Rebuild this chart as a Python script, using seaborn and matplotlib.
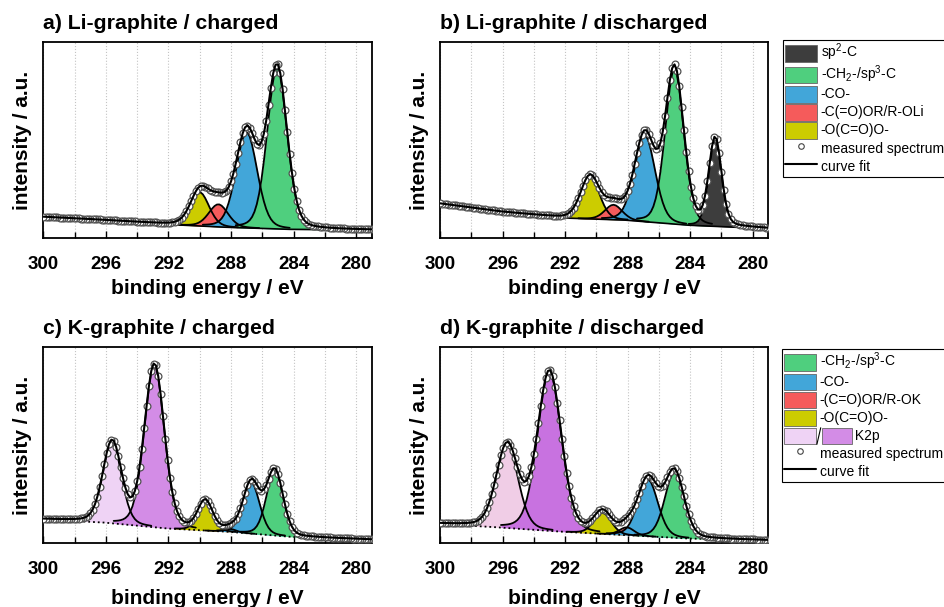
import numpy as np
import matplotlib
matplotlib.use("Agg")
import matplotlib.pyplot as plt
from matplotlib.patches import Patch, Rectangle
from matplotlib.lines import Line2D
from matplotlib.legend_handler import HandlerBase
from matplotlib.ticker import MultipleLocator
import seaborn as sns


# binding energy axis of the spectra (eV), 0.15 eV steps
energy = np.arange(279.0, 300.01, 0.15)

# background anchor energies and background level per panel
bg_energy = [279, 284, 288, 292, 296, 300]
bg_a = [4.2, 4.5, 5.5, 7.0, 9.2, 10.9]
bg_b = [4.9, 6.6, 9.2, 10.3, 13.4, 17.7]
bg_c = [1.9, 3.2, 5.8, 7.5, 10.5, 12.2]
bg_d = [1.5, 2.4, 4.1, 5.8, 8.0, 9.8]

# fitted components: species, centre (eV), height, FWHM (eV)
comp_a = ["oco", "coor", "co", "ch2"]
center_a = [290.0, 288.8, 287.0, 285.05]
height_a = [17.2, 11.5, 48.7, 82.0]
fwhm_a = [1.4, 1.45, 1.6, 1.5]

comp_b = ["oco", "coor", "co", "ch2", "sp2"]
center_b = [290.4, 288.9, 286.9, 285.0, 282.4]
height_b = [21.6, 7.6, 44.0, 79.0, 44.5]
fwhm_b = [1.4, 1.3, 1.55, 1.4, 0.95]

comp_c = ["k2p12", "k2p32", "oco", "coor", "co", "ch2"]
center_c = [295.6, 292.9, 289.65, 288.05, 286.7, 285.2]
height_c = [41.4, 82.8, 14.7, 1.5, 26.0, 33.0]
fwhm_c = [1.4, 1.5, 1.1, 0.9, 1.25, 1.25]

comp_d = ["k2p12", "k2p32", "oco", "coor", "co", "ch2"]
center_d = [295.7, 293.0, 289.6, 288.05, 286.7, 285.0]
height_d = [42.0, 81.0, 10.8, 4.0, 29.0, 33.4]
fwhm_d = [1.65, 1.8, 1.3, 1.1, 1.5, 1.45]

titles = ["a) Li-graphite / charged", "b) Li-graphite / discharged",
          "c) K-graphite / charged", "d) K-graphite / discharged"]

COLORS = {
    "sp2": "#3d3d3d",
    "ch2": "#4fcf7e",
    "co": "#42a6d9",
    "coor": "#f55b5b",
    "oco": "#cccc00",
    "k2p12": "#efd3f5",
    "k2p32": "#d38ce6",
}
K_COLORS_D = {"k2p12": "#f0cde6", "k2p32": "#c872e0"}


def pseudo_voigt(x, c, h, w, eta=0.2):
    r = (x - c) / (w / 2)
    return h * ((1 - eta) * np.exp(-np.log(2) * r ** 2) + eta / (1 + r ** 2))


sns.set_theme(style="white")
plt.rcParams["font.family"] = ["Liberation Sans", "DejaVu Sans"]
plt.rcParams["mathtext.fontset"] = "custom"
plt.rcParams["mathtext.rm"] = "Liberation Sans"
plt.rcParams["mathtext.it"] = "Liberation Sans:italic"
plt.rcParams["mathtext.bf"] = "Liberation Sans:bold"
for key in ["text.color", "axes.labelcolor", "xtick.color", "ytick.color"]:
    plt.rcParams[key] = "black"

fig = plt.figure(figsize=(9.44, 6.07), dpi=100)

positions = [
    [0.0459, 0.6074, 0.3479, 0.3239],
    [0.4661, 0.6074, 0.3478, 0.3239],
    [0.0459, 0.1049, 0.3479, 0.3239],
    [0.4661, 0.1049, 0.3478, 0.3239],
]
panels = [
    (bg_a, comp_a, center_a, height_a, fwhm_a, "-"),
    (bg_b, comp_b, center_b, height_b, fwhm_b, "-"),
    (bg_c, comp_c, center_c, height_c, fwhm_c, ":"),
    (bg_d, comp_d, center_d, height_d, fwhm_d, ":"),
]

for i, (pos, (bg_vals, comps, cents, heights, widths, bg_ls)) in enumerate(zip(positions, panels)):
    ax = fig.add_axes(pos)
    bg = np.interp(energy, bg_energy, bg_vals)
    fit = bg.copy()
    curves = []
    for name, c, h, w in zip(comps, cents, heights, widths):
        y = pseudo_voigt(energy, c, h, w)
        fit += y
        curves.append((name, c, w, y))

    # filled components, high binding energy first
    for name, c, w, y in curves:
        col = COLORS[name]
        if i == 3 and name in K_COLORS_D:
            col = K_COLORS_D[name]
        m = np.abs(energy - c) <= 1.8 * w
        ax.fill_between(energy[m], bg[m], bg[m] + y[m], color=col, lw=0, zorder=2)
    for name, c, w, y in curves:
        m = np.abs(energy - c) <= 1.8 * w
        ax.plot(energy[m], bg[m] + y[m], color="black", lw=1.3, zorder=3)

    ax.plot(energy, bg, color="black", lw=1.2 if bg_ls == "-" else 1.3,
            ls=bg_ls, zorder=3)

    sns.scatterplot(x=energy, y=fit, ax=ax, marker="o", s=24, color="white",
                    edgecolor="#505050", linewidth=0.9, zorder=4, legend=False)
    sns.lineplot(x=energy, y=fit, ax=ax, color="black", lw=1.5, zorder=5)

    ax.set_xlim(300, 279)
    ax.set_ylim(0, 100)
    ax.xaxis.set_major_locator(MultipleLocator(4))
    ax.xaxis.set_minor_locator(MultipleLocator(2))
    ax.set_yticks([])
    ax.grid(axis="x", which="both", color="#c4c4c4", ls=":", lw=0.8, zorder=0)
    ax.tick_params(axis="x", which="both", direction="in", bottom=True,
                   width=1.0, labelsize=13.5, pad=13)
    ax.tick_params(axis="x", which="major", length=5)
    ax.tick_params(axis="x", which="minor", length=4)
    for lab in ax.get_xticklabels():
        lab.set_fontweight("bold")
    for sp in ax.spines.values():
        sp.set_color("black")
        sp.set_linewidth(1.3)
    ax.set_xlabel("binding energy / eV", fontsize=15, fontweight="bold",
                  labelpad=4 if i < 2 else 7.5)
    ax.set_ylabel("intensity / a.u.", fontsize=15, fontweight="bold", labelpad=8)
    fig.text(pos[0], pos[1] + pos[3] + 0.0205, titles[i], fontsize=15.3,
             fontweight="bold", ha="left", va="baseline")


class HandlerBox(HandlerBase):
    def create_artists(self, legend, orig_handle, xdescent, ydescent,
                       width, height, fontsize, trans):
        h = height * 0.92
        y0 = -ydescent + (height - h) / 2 - 0.5
        p = Rectangle((-xdescent, y0), width, h,
                      facecolor=orig_handle.get_facecolor(),
                      edgecolor="#666666", lw=0.6, transform=trans)
        return [p]


class HandlerK2p(HandlerBase):
    def __init__(self, light, dark):
        super().__init__()
        self.light = light
        self.dark = dark

    def create_artists(self, legend, orig_handle, xdescent, ydescent,
                       width, height, fontsize, trans):
        h = height * 0.92
        x0, y0 = -xdescent, -ydescent + (height - h) / 2 - 0.5
        gap = 0.2 * width
        p1 = Rectangle((x0, y0), width, h, facecolor=self.light,
                       edgecolor="#666666", lw=0.6, transform=trans)
        slash = Line2D([x0 + width + gap * 0.2, x0 + width + gap * 0.8],
                       [y0, y0 + h], color="black", lw=0.8, transform=trans)
        p2 = Rectangle((x0 + width + gap, y0), width * 0.95, h,
                       facecolor=self.dark, edgecolor="#666666", lw=0.6,
                       transform=trans)
        return [p1, slash, p2]


def patch(key, label):
    return Patch(facecolor=COLORS[key], label=label)


meas = Line2D([], [], ls="none", marker="o", ms=4, mfc="white", mec="#444444",
              mew=0.8, label="measured spectrum")
fitl = Line2D([], [], color="black", lw=1.5, label="curve fit")

leg_kw = dict(loc="upper left", frameon=True, fontsize=10, handlelength=2.3,
              handleheight=1.62, handletextpad=0.3, labelspacing=0.0,
              borderpad=0.12, borderaxespad=0, fancybox=False,
              edgecolor="black", framealpha=1)

top_handles = [patch("sp2", "sp$^2$-C"), patch("ch2", "-CH$_2$-/sp$^3$-C"),
               patch("co", "-CO-"), patch("coor", "-C(=O)OR/R-OLi"),
               patch("oco", "-O(C=O)O-"), meas, fitl]
leg1 = fig.legend(handles=top_handles, bbox_to_anchor=(783 / 944, 1 - 40 / 607),
                  handler_map={Patch: HandlerBox()}, **leg_kw)
leg1.get_frame().set_linewidth(0.8)

k2p = Patch(facecolor=COLORS["k2p12"], label="         K2p")
bot_handles = [patch("ch2", "-CH$_2$-/sp$^3$-C"), patch("co", "-CO-"),
               patch("coor", "-(C=O)OR/R-OK"), patch("oco", "-O(C=O)O-"),
               k2p, meas, fitl]
leg2 = fig.legend(handles=bot_handles, bbox_to_anchor=(782 / 944, 1 - 349 / 607),
                  handler_map={k2p: HandlerK2p(COLORS["k2p12"], COLORS["k2p32"]),
                               Patch: HandlerBox()},
                  **leg_kw)
leg2.get_frame().set_linewidth(0.8)

fig.savefig("out.png", dpi=100)
